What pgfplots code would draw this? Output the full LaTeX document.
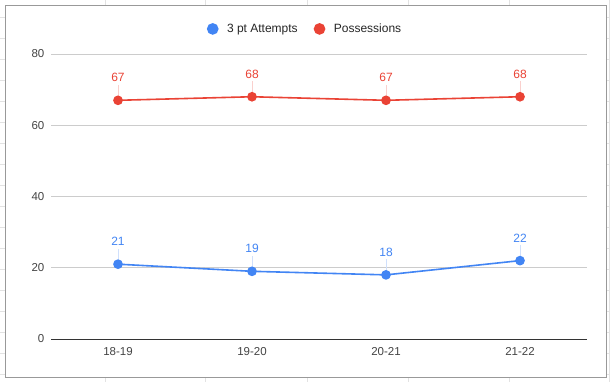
\documentclass[border=0pt]{standalone}
\usepackage{pgfplots}
\pgfplotsset{compat=1.18}
\usepackage{fontspec}
\setmainfont{Liberation Sans}
\definecolor{gblue}{HTML}{4285F4}
\definecolor{gred}{HTML}{EA4335}
\definecolor{ticktxt}{HTML}{444444}
\definecolor{gridc}{HTML}{CCCCCC}
\definecolor{sheet}{HTML}{E2E2E2}
\begin{document}
\begin{tikzpicture}[x=1pt,y=1pt]
\path[use as bounding box] (0,0) rectangle (610,382);
\fill[white] (0,0) rectangle (610,382);
\foreach \xx in {105,205,307,408,509} {\draw[sheet,line width=0.6pt] (\xx,377)--(\xx,382); \draw[sheet,line width=0.6pt] (\xx,0)--(\xx,5);}
\foreach \yy in {8,29,50,71,92,113,134,155,176,197,218,239,260,281,302,323,344,365} {\draw[sheet,line width=0.6pt] (0,\yy)--(5,\yy); \draw[sheet,line width=0.6pt] (606,\yy)--(610,\yy);}
\draw[sheet,line width=0.6pt] (609,0)--(609,382);
\fill[white] (5,5) rectangle (606,377);
\draw[black!40, line width=0.9pt] (5,5) rectangle (606,377);
\begin{axis}[
  at={(51pt,43pt)}, anchor=south west, scale only axis,
  width=536pt, height=285pt,
  xmin=-0.5, xmax=3.5, ymin=0, ymax=80,
  xtick={0,1,2,3}, xticklabels={18-19,19-20,20-21,21-22},
  ytick={0,20,40,60,80},
  axis line style={draw=none},
  major tick length=0pt,
  tick style={draw=none},
  ymajorgrids, grid style={gridc, line width=0.7pt},
  yticklabel style={font=\fontsize{11.5}{13}\selectfont, text=ticktxt, inner sep=0pt, xshift=-6.5pt},
  xticklabel style={font=\fontsize{11.5}{13}\selectfont, text=ticktxt, inner sep=0pt, anchor=north, yshift=-8.5pt},
  /pgf/number format/assume math mode=true,
  legend style={at={(0.474,1.088)}, anchor=center, draw=none, fill=none,
    legend columns=2, font=\fontsize{12}{14}\selectfont, text=black!85,
    /tikz/every odd column/.append style={column sep=6.5pt},
    /tikz/every even column/.append style={column sep=14pt}},
  legend image code/.code={\fill[#1] (0pt,0pt) circle (5pt);},
  clip=false,
]
\addplot[draw=none, forget plot, error bars/.cd, y dir=plus, y fixed=4.4,
  error mark=none, error bar style={gblue!25, line width=0.6pt}]
  coordinates {(0,21) (1,19) (2,18) (3,22)};
\addplot[draw=none, forget plot, error bars/.cd, y dir=plus, y fixed=4.4,
  error mark=none, error bar style={gred!25, line width=0.6pt}]
  coordinates {(0,67) (1,68) (2,67) (3,68)};
\draw[black!80, line width=0.9pt] (axis cs:-0.5,0) -- (axis cs:3.5,0);
\addplot[gblue, line width=1.6pt, mark=*, mark size=4pt, mark options={fill=gblue, draw=gblue},
  nodes near coords, every node near coord/.append style={font=\fontsize{12}{14}\selectfont, text=gblue, anchor=south, inner sep=0pt, yshift=17.5pt}]
  coordinates {(0,21) (1,19) (2,18) (3,22)};
\addlegendentry{3 pt Attempts}
\addplot[gred, line width=1.6pt, mark=*, mark size=4pt, mark options={fill=gred, draw=gred},
  nodes near coords, every node near coord/.append style={font=\fontsize{12}{14}\selectfont, text=gred, anchor=south, inner sep=0pt, yshift=17.5pt}]
  coordinates {(0,67) (1,68) (2,67) (3,68)};
\addlegendentry{Possessions}
\end{axis}
\end{tikzpicture}
\end{document}
